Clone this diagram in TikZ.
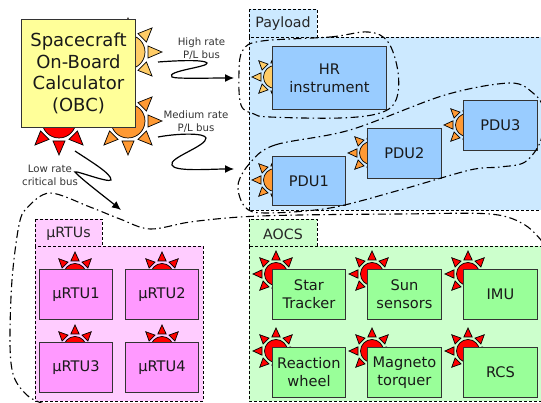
\documentclass[tikz,border=0pt]{standalone}
\usepackage{fontspec}
\setmainfont{DejaVu Sans}
\definecolor{paybg}{HTML}{CCE9FF}
\definecolor{paybox}{HTML}{99CCFF}
\definecolor{rtubg}{HTML}{FFCCFF}
\definecolor{rtubox}{HTML}{FF99FF}
\definecolor{aocsbg}{HTML}{CCFFCC}
\definecolor{aocsbox}{HTML}{99FF99}
\definecolor{obcfill}{HTML}{FFFF99}
\definecolor{sunlight}{HTML}{FFCC66}
\definecolor{sunorange}{HTML}{FF9933}
\definecolor{edgegray}{HTML}{333333}
\newcommand\sunshape[7]{%
  \begin{scope}[shift={(#1,#2)}]
    \fill[#7,draw=black,line width=.7pt] (0,0) circle (#3pt);
    \foreach \a in {0,45,...,315}
      \draw[rotate=\a,fill=#7,draw=black,line width=.7pt,line join=miter]
        (#5pt,0pt) -- (#4pt,#6pt) -- (#4pt,-#6pt) -- cycle;
  \end{scope}}
\newcommand\bigsun[3]{\sunshape{#1}{#2}{17}{20}{34}{6}{#3}}
\newcommand\smallsun[3]{\sunshape{#1}{#2}{11.5}{14}{23}{4.2}{#3}}
\tikzset{
  x=1pt,y=-1pt,
  area/.style={draw=black,densely dashed,line width=.7pt},
  unit/.style={draw=edgegray,line width=.9pt,inner sep=0pt,align=center,font=\fontsize{14.6}{18}\selectfont,text=black!90,anchor=north west},
  tabtext/.style={font=\fontsize{14.2}{16}\selectfont,text=black!85},
  looppath/.style={draw=black,line width=1.1pt,dash pattern=on 8pt off 3.5pt on 1.5pt off 3.5pt},
  bus/.style={draw=black,line width=1.2pt,-{Latex[length=9pt,width=8pt]}},
  buslabel/.style={font=\fontsize{10.2}{12.5}\selectfont,align=center,text=black!80,inner sep=0pt},
}
\usetikzlibrary{arrows.meta}
\newcommand\unitbox[7]{\node[unit,fill=#6,minimum width=#4pt,minimum height=#5pt] (#1) at (#2,#3) {#7};}
\begin{document}
\begin{tikzpicture}
\useasboundingbox (0,0) rectangle (541,403);
% areas
\path[area,fill=paybg] (249,9) rectangle (317,37);
\path[area,fill=paybg] (249,37) rectangle (541,210);
\path[area,fill=rtubg] (35,219) rectangle (102,246);
\path[area,fill=rtubg] (35,246) rectangle (203,401);
\path[area,fill=aocsbg] (249,219) rectangle (317,246);
\path[area,fill=aocsbg] (249,246) rectangle (541,401);
\node[tabtext] (paytab) at (283,24) {Payload};
\node[tabtext] (rtutab) at (68.5,234) {µRTUs};
\node[tabtext] (aocstab) at (283,234) {AOCS};
% suns
\bigsun{128}{52}{sunlight}
\bigsun{128}{121}{sunorange}
\bigsun{59}{121}{red}
\smallsun{275}{77}{sunlight}
\smallsun{275}{180}{sunorange}
\smallsun{371}{153}{sunorange}
\smallsun{467}{125}{sunorange}
\smallsun{75}{275}{red}
\smallsun{162}{275}{red}
\smallsun{75}{348}{red}
\smallsun{162}{348}{red}
\smallsun{276}{274}{red}
\smallsun{372}{274}{red}
\smallsun{468}{274}{red}
\smallsun{276}{351}{red}
\smallsun{372}{351}{red}
\smallsun{468}{351}{red}
% boxes
\node[unit,fill=obcfill,minimum width=114pt,minimum height=108pt,font=\fontsize{18}{21.5}\selectfont] (obc) at (21,19) {Spacecraft\\On-Board\\Calculator\\(OBC)};
\unitbox{hr}{272}{46}{114}{63}{paybox}{HR\\instrument}
\unitbox{pdua}{272}{156}{73}{49}{paybox}{PDU1}
\unitbox{pdub}{367}{128}{74}{50}{paybox}{PDU2}
\unitbox{pduc}{463}{100}{74}{50}{paybox}{PDU3}
\unitbox{rtua}{39}{269}{73}{50}{rtubox}{µRTU1}
\unitbox{rtub}{125}{269}{73}{50}{rtubox}{µRTU2}
\unitbox{rtuc}{39}{342}{73}{50}{rtubox}{µRTU3}
\unitbox{rtud}{125}{342}{73}{50}{rtubox}{µRTU4}
\unitbox{star}{272}{269}{73}{50}{aocsbox}{Star\\Tracker}
\unitbox{sens}{367}{269}{74}{50}{aocsbox}{Sun\\sensors}
\unitbox{imu}{463}{269}{74}{50}{aocsbox}{IMU}
\unitbox{wheel}{272}{347}{73}{50}{aocsbox}{Reaction\\wheel}
\unitbox{magn}{367}{347}{74}{50}{aocsbox}{Magneto\\torquer}
\unitbox{rcs}{463}{347}{74}{50}{aocsbox}{RCS}
% dash-dot groupings
\draw[looppath] plot[smooth cycle,tension=.6] coordinates {(262,41) (330,37) (368,32) (388,42) (398,72) (396,100) (380,113) (340,118) (270,117) (254,114) (241,105) (239,72) (243,50)};
\draw[looppath] plot[smooth cycle,tension=.55] coordinates {(250,163) (275,145) (350,130) (445,95) (510,83) (533,93) (543,108) (541,140) (525,162) (500,167) (470,170) (400,190) (330,208) (265,213) (245,207) (238,185)};
\draw[looppath] plot[smooth,tension=.55] coordinates {(44,404) (28,396) (14,377) (10,345) (12,280) (19,225) (27,208) (50,193) (90,207) (120,219) (150,229) (190,222) (240,217) (300,215) (400,214) (490,214) (525,225) (545,245)};
% buses
\coordinate (hs) at (158,62);
\coordinate (hm) at (172,77);
\coordinate (he) at (234,78);
\coordinate (ms) at (158,137);
\coordinate (mm) at (172,165);
\coordinate (me) at (234,169);
\coordinate (ls) at (75,151);
\coordinate (lm) at (75,172);
\coordinate (le) at (121,210);
\draw[bus] (hs) .. controls (185,60) and (205,60) .. (207,63) .. controls (209,67) and (165,71) .. (hm) .. controls (175,79) and (210,78) .. (he);
\draw[bus] (ms) .. controls (180,133) and (205,133) .. (206,138) .. controls (207,146) and (168,158) .. (mm) .. controls (174,172) and (210,169) .. (me);
\draw[bus] (ls) .. controls (90,161) and (112,174) .. (111,180) .. controls (108,183) and (75,170) .. (lm) .. controls (80,178) and (105,197) .. (le);
% labels
\node[buslabel] (hl) at (201.5,48.5) {High rate\\P/L bus};
\node[buslabel] (ml) at (196,121.5) {Medium rate\\P/L bus};
\node[buslabel] (ll) at (50,175.5) {Low rate\\critical bus};
\end{tikzpicture}
\end{document}
